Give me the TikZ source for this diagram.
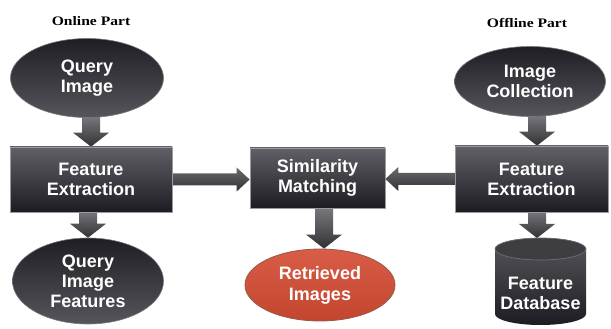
\documentclass[tikz,border=0pt]{standalone}
\usepackage{fontspec}
\setmainfont{Liberation Serif}
\newfontfamily\lab{Liberation Sans}
\usetikzlibrary{shapes.geometric,calc}
\pgfdeclarelayer{back}
\pgfdeclarelayer{bg}
\pgfsetlayers{back,bg,main}
\definecolor{boxtop}{HTML}{606066}
\definecolor{boxbot}{HTML}{1C1C22}
\definecolor{boxline}{HTML}{9A9AA0}
\definecolor{elltop}{HTML}{1E1E24}
\definecolor{ellbot}{HTML}{55555B}
\definecolor{arrtop}{HTML}{7E7E82}
\definecolor{arrbot}{HTML}{323236}
\definecolor{redfill}{HTML}{D44B32}
\definecolor{redline}{HTML}{95584A}
\tikzset{
  lbl/.style={text=white, font=\lab\bfseries\fontsize{18}{20}\selectfont, align=center, inner sep=0pt},
  stepbox/.style={lbl, rectangle, top color=boxtop, bottom color=boxbot, draw=boxline, line width=0.7pt},
  darkell/.style={lbl, ellipse, top color=elltop, bottom color=ellbot, draw=ellbot!80!white, line width=0.6pt},
  redell/.style={lbl, ellipse, top color=redfill!90!white, bottom color=redfill!92!black, draw=redline, line width=0.8pt, font=\lab\bfseries\fontsize{18}{21}\selectfont},
  titletext/.style={font=\bfseries\fontsize{13}{15}\selectfont, inner sep=0pt},
  varrow/.style={top color=arrtop, bottom color=arrbot},
  harrow/.style={top color=arrtop!85!black, bottom color=arrbot},
  cylbody/.style={top color=boxtop!90!black, bottom color=boxbot, draw=none},
  cylcap/.style={fill=boxtop!65!black, draw=ellbot!85!white, line width=0.7pt},
}
\newcommand\varr[3][0pt]{%
  \begin{pgfonlayer}{bg}
  \path[varrow] let \p1=(#2), \p2=(#3) in
    (\x2+#1-9pt,\y1+4pt) -- (\x2+#1+9pt,\y1+4pt) -- (\x2+#1+9pt,\y2+14pt) --
    (\x2+#1+18pt,\y2+14pt) -- (\x2+#1,\y2) -- (\x2+#1-18pt,\y2+14pt) --
    (\x2+#1-9pt,\y2+14pt) -- cycle;
  \end{pgfonlayer}}
\newcommand\harr[2]{%
  \begin{pgfonlayer}{bg}
  \path[harrow] let \p1=(#1), \p2=(#2), \n1={sign(\x2-\x1)} in
    (\x1-\n1*4pt,\y1+6pt) -- (\x2-\n1*13pt,\y1+6pt) -- (\x2-\n1*13pt,\y1+12pt) --
    (\x2,\y1) -- (\x2-\n1*13pt,\y1-12pt) -- (\x2-\n1*13pt,\y1-6pt) --
    (\x1-\n1*4pt,\y1-6pt) -- cycle;
  \end{pgfonlayer}}
\begin{document}
\begin{tikzpicture}[x=1pt,y=1pt]
\useasboundingbox (0,0) rectangle (611,329);
\begin{pgfonlayer}{back}
\fill[white] (0,0) rectangle (611,329);
\end{pgfonlayer}
% titles
\node[titletext] (t1) at (91,308) {\scalebox{1.2}[1]{Online Part}};
\node[titletext] (t2) at (527,306) {\scalebox{1.2}[1]{Offline Part}};
% online part
\node[darkell, minimum width=153pt, minimum height=79pt] (qi) at (87,251) {Query\\Image};
\node[stepbox, minimum width=162pt, minimum height=65pt] (fe1) at (91,149.5) {Feature\\Extraction};
\node[darkell, minimum width=151pt, minimum height=86pt] (qif) at (88,48) {Query\\Image\\Features};
% middle
\node[stepbox, minimum width=135pt, minimum height=60pt] (sm) at (317.5,151) {Similarity\\Matching};
\node[redell, minimum width=150pt, minimum height=72pt] (ri) at (320,44) {Retrieved\\Images};
% offline part
\node[darkell, minimum width=151pt, minimum height=70pt] (ic) at (530,247.5) {Image\\Collection};
\node[stepbox, minimum width=153pt, minimum height=66pt] (fe2) at (531.5,150) {Feature\\Extraction};
% database cylinder
\coordinate (dbtop) at (540.5,91);
\coordinate (dbbot) at (540.5,4);
\path[cylbody] let \p1=(dbtop), \p2=(dbbot) in
  (\x1-45.5pt,\y1-11pt) -- (\x1-45.5pt,\y2+11pt)
  arc[start angle=180,end angle=360,x radius=45.5pt,y radius=11pt]
  -- (\x1+45.5pt,\y1-11pt)
  arc[start angle=0,end angle=180,x radius=45.5pt,y radius=11pt] -- cycle;
\path[cylcap] let \p1=(dbtop) in (\x1,\y1-11pt) ellipse [x radius=45.5pt, y radius=11pt];
\node[lbl] (db) at (540.5,36) {Feature\\Database};
% connectors
\varr{qi.south}{fe1.north}
\varr{fe1.south}{qif.north}
\varr[4pt]{sm.south}{ri.north}
\varr[5.5pt]{ic.south}{fe2.north}
\varr[-3.5pt]{fe2.south}{dbtop}
\harr{fe1.east}{sm.west}
\harr{fe2.west}{sm.east}
\end{tikzpicture}
\end{document}
